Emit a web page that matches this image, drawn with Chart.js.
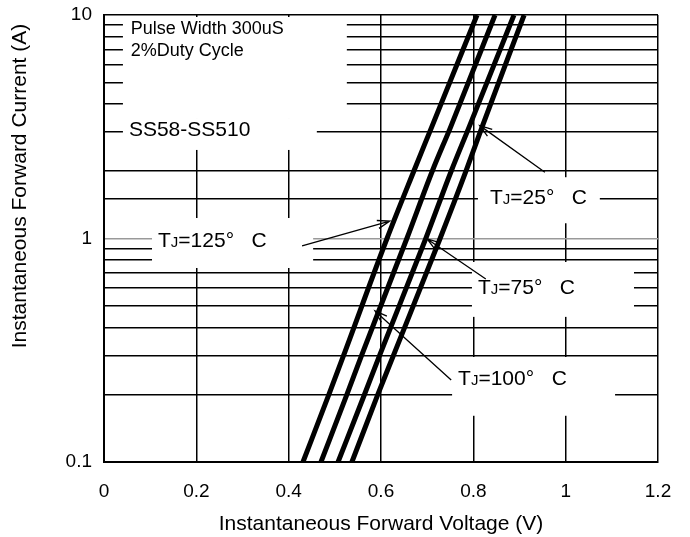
<!DOCTYPE html>
<html>
<head>
<meta charset="utf-8">
<script src="https://cdn.jsdelivr.net/npm/chart.js@4/dist/chart.umd.min.js"></script>
<style>
  html, body { margin: 0; padding: 0; background: #fff; }
  #wrap { width: 690px; height: 537px; }
</style>
</head>
<body>
<div id="wrap"><canvas id="c"></canvas></div>
<script>
// forward current (A) at which each curve was read
var currentA = [0.1, 0.2, 0.3, 1, 2, 3.16, 10];
// forward voltage (V) for each junction temperature
var vf125 = [0.431, 0.487, 0.519, 0.613, 0.671, 0.710, 0.808];
var vf100 = [0.470, 0.526, 0.558, 0.656, 0.711, 0.751, 0.847];
var vf75  = [0.507, 0.564, 0.597, 0.697, 0.752, 0.791, 0.888];
var vf25  = [0.537, 0.593, 0.627, 0.728, 0.784, 0.819, 0.910];
var xTicks = [0, 0.2, 0.4, 0.6, 0.8, 1, 1.2];
var yLabelTicks = [0.1, 1, 10];

var FONT = '"Liberation Sans", Arial, sans-serif';

function pts(v) {
    return v.map(function (x, i) { return { x: x, y: currentA[i] }; });
}

// white boxes behind the notes (V range, A range)
var boxes = [
    [0.041, 0.526, 10, 3.46],
    [0.041, 0.461, 3.46, 2.49],
    [0.104, 0.453, 1.235, 0.738],
    [0.810, 1.074, 1.88, 1.17],
    [0.797, 1.148, 0.785, 0.446],
    [0.754, 1.107, 0.295, 0.161]
];
// arrows: from (V, A) to tip (V, A)
var arrows = [
    [0.429, 0.926, 0.619, 1.197],
    [0.955, 1.98, 0.814, 3.2],
    [0.827, 0.659, 0.700, 0.995],
    [0.752, 0.233, 0.587, 0.474]
];
var tjLabels = [
    ["125", 0.117, 0.985],
    ["25", 0.836, 1.53],
    ["75", 0.810, 0.607],
    ["100", 0.767, 0.238]
];

var notes = {
    id: "notes",
    beforeDatasetsDraw: function (chart) {
        var c = chart.ctx, x = chart.scales.x, y = chart.scales.y, a = chart.chartArea;
        c.save();
        c.fillStyle = "#fff";
        boxes.forEach(function (b) {
            var l = x.getPixelForValue(b[0]), r = x.getPixelForValue(b[1]);
            var t = Math.max(y.getPixelForValue(b[2]), a.top + 2), btm = y.getPixelForValue(b[3]);
            c.fillRect(l, t, r - l, btm - t);
        });
        c.restore();
    },
    afterDraw: function (chart) {
        var c = chart.ctx, x = chart.scales.x, y = chart.scales.y;
        c.save();
        c.fillStyle = "#000";
        c.strokeStyle = "#000";
        c.textBaseline = "middle";
        c.textAlign = "left";
        c.font = "18px " + FONT;
        c.fillText("Pulse Width 300uS", x.getPixelForValue(0.058), y.getPixelForValue(8.66));
        c.fillText("2%Duty Cycle", x.getPixelForValue(0.058), y.getPixelForValue(6.9));
        c.font = "21px " + FONT;
        c.fillText("SS58-SS510", x.getPixelForValue(0.054), y.getPixelForValue(3.06));

        tjLabels.forEach(function (t) {
            var px = x.getPixelForValue(t[1]), py = y.getPixelForValue(t[2]);
            c.textBaseline = "alphabetic";
            var base = py + 7;
            c.font = "21px " + FONT;
            c.fillText("T", px, base);
            px += c.measureText("T").width;
            c.font = "15px " + FONT;
            c.fillText("J", px, base);
            px += c.measureText("J").width;
            c.font = "21px " + FONT;
            c.fillText("=" + t[0] + "\u00b0   C", px, base);
        });

        c.lineWidth = 1.3;
        arrows.forEach(function (ar) {
            var x0 = x.getPixelForValue(ar[0]), y0 = y.getPixelForValue(ar[1]);
            var x1 = x.getPixelForValue(ar[2]), y1 = y.getPixelForValue(ar[3]);
            var ang = Math.atan2(y1 - y0, x1 - x0), h = 13, w = 0.32;
            c.beginPath();
            c.moveTo(x0, y0);
            c.lineTo(x1, y1);
            c.moveTo(x1 - h * Math.cos(ang - w), y1 - h * Math.sin(ang - w));
            c.lineTo(x1, y1);
            c.lineTo(x1 - h * Math.cos(ang + w), y1 - h * Math.sin(ang + w));
            c.stroke();
        });

        // y axis title, sits a bit above the middle of the axis
        c.font = "21px " + FONT;
        c.textAlign = "center";
        c.textBaseline = "middle";
        c.translate(20, 186);
        c.rotate(-Math.PI / 2);
        c.fillText("Instantaneous Forward Current (A)", 0, 0);
        c.restore();
    }
};

var curve = function (v) {
    return {
        data: pts(v), borderColor: "#000", borderWidth: 5, pointRadius: 0,
        showLine: true, cubicInterpolationMode: "monotone", fill: false
    };
};

new Chart(document.getElementById("c"), {
    type: "scatter",
    data: { datasets: [curve(vf125), curve(vf100), curve(vf75), curve(vf25)] },
    options: {
        responsive: true,
        maintainAspectRatio: false,
        animation: false,
        devicePixelRatio: 1,
        layout: { padding: { left: 0, right: 32, top: 15, bottom: 0 } },
        plugins: { legend: { display: false }, tooltip: { enabled: false } },
        scales: {
            x: {
                type: "linear",
                min: 0,
                max: 1.2,
                afterFit: function (s) { s.height = 75; s.paddingLeft = 0; s.paddingRight = 0; },
                afterBuildTicks: function (s) { s.ticks = xTicks.map(function (v) { return { value: v }; }); },
                grid: { color: "#000", lineWidth: 1.5, drawTicks: false },
                border: { color: "#000", width: 2 },
                ticks: {
                    color: "#000",
                    padding: 18,
                    font: { family: FONT, size: 19 },
                    callback: function (v) { return String(Number(v.toFixed(1))); }
                },
                title: {
                    display: true,
                    text: "Instantaneous Forward Voltage (V)",
                    color: "#000",
                    font: { family: FONT, size: 21 },
                    padding: { top: 5, bottom: 0 }
                }
            },
            y: {
                type: "logarithmic",
                min: 0.1,
                max: 10,
                afterFit: function (s) { s.width = 104; s.paddingTop = 0; s.paddingBottom = 0; },
                grid: {
                    lineWidth: 1.5,
                    drawTicks: false,
                    color: function (ctx) { return ctx.tick && ctx.tick.value === 1 ? "#999" : "#000"; }
                },
                border: { color: "#000", width: 2 },
                ticks: {
                    color: "#000",
                    padding: 12,
                    autoSkip: false,
                    font: { family: FONT, size: 19 },
                    callback: function (v) { return yLabelTicks.indexOf(v) >= 0 ? String(v) : ""; }
                }
            }
        }
    },
    plugins: [notes]
});
</script>
</body>
</html>
